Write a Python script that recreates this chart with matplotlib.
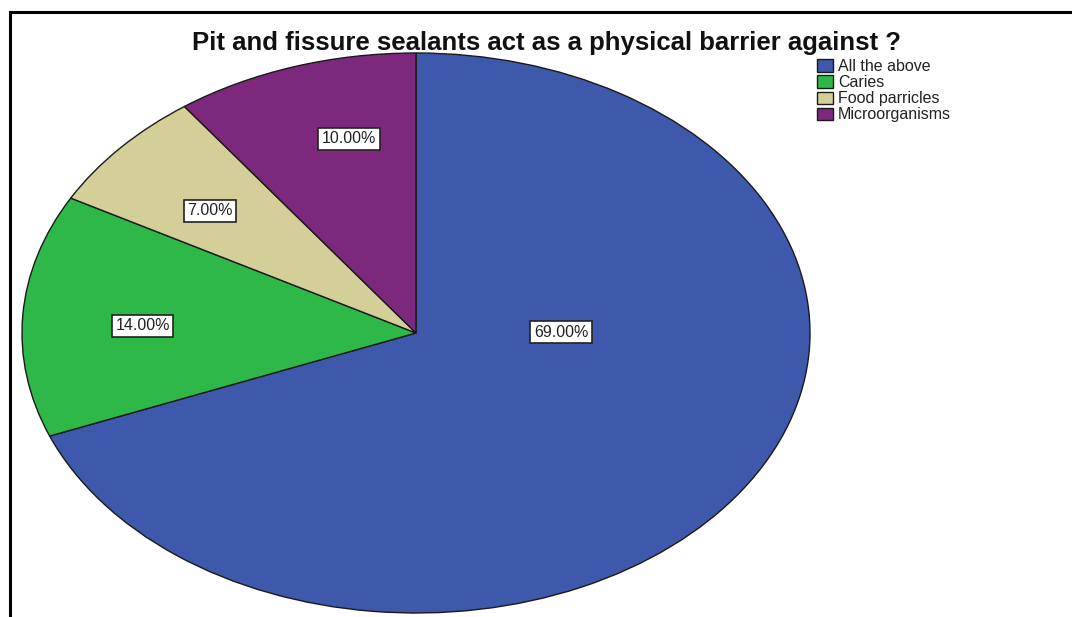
import matplotlib.pyplot as plt

plt.rcParams['font.family'] = ['Liberation Sans', 'DejaVu Sans']

categories = ['All the above', 'Caries', 'Food parricles', 'Microorganisms']
percents = [69.0, 14.0, 7.0, 10.0]
colors = ['#3E58AC', '#2EB848', '#D4CE98', '#7C287D']

# where each percentage box sits, in pie units (x, y)
label_pos = [(0.368, 0.002), (-0.694, 0.025), (-0.523, 0.436), (-0.170, 0.693)]

fig = plt.figure(figsize=(10.72, 6.17), dpi=100)
ax = fig.add_axes([0, 0, 1, 1])

wedges, texts, autotexts = ax.pie(percents, colors=colors, startangle=90, counterclock=False,
                                  radius=1, autopct='%.2f%%',
                                  wedgeprops=dict(edgecolor='#1a1a1a', linewidth=1.0),
                                  textprops=dict(fontsize=11.5, color='#222222'))
for t, (x, y) in zip(autotexts, label_pos):
    t.set_position((x, y))
    t.set_bbox(dict(boxstyle='square,pad=0.22', facecolor='white', edgecolor='#222222', linewidth=1.2))

# stretch the pie into the wide ellipse and place it in the frame
cx, cy, rx, ry = 416, 333, 394, 280
ax.set_aspect('auto')
ax.set_xlim(-cx / rx, (1072 - cx) / rx)
ax.set_ylim((cy - 617) / ry, cy / ry)
ax.axis('off')

fig.text(546 / 1072, 1 - 43 / 617, 'Pit and fissure sealants act as a physical barrier against ?',
         ha='center', va='center', fontsize=18.5, fontweight='bold', color='#111111')

ax.legend(wedges, categories, loc='upper left', bbox_to_anchor=(817 / 1072, 1 - 59 / 617),
          frameon=False, fontsize=11.5, handlelength=1.0, handleheight=0.8, handletextpad=0.3,
          labelspacing=0.07, borderpad=0, borderaxespad=0, labelcolor='#222222')

# outer frame lines at top and left
fig.add_artist(plt.Line2D([10 / 1072, 1], [1 - 12 / 617, 1 - 12 / 617], color='black', lw=2.2))
fig.add_artist(plt.Line2D([10 / 1072, 10 / 1072], [0, 1 - 12 / 617], color='black', lw=2.2))

fig.savefig('out.png', dpi=100)
